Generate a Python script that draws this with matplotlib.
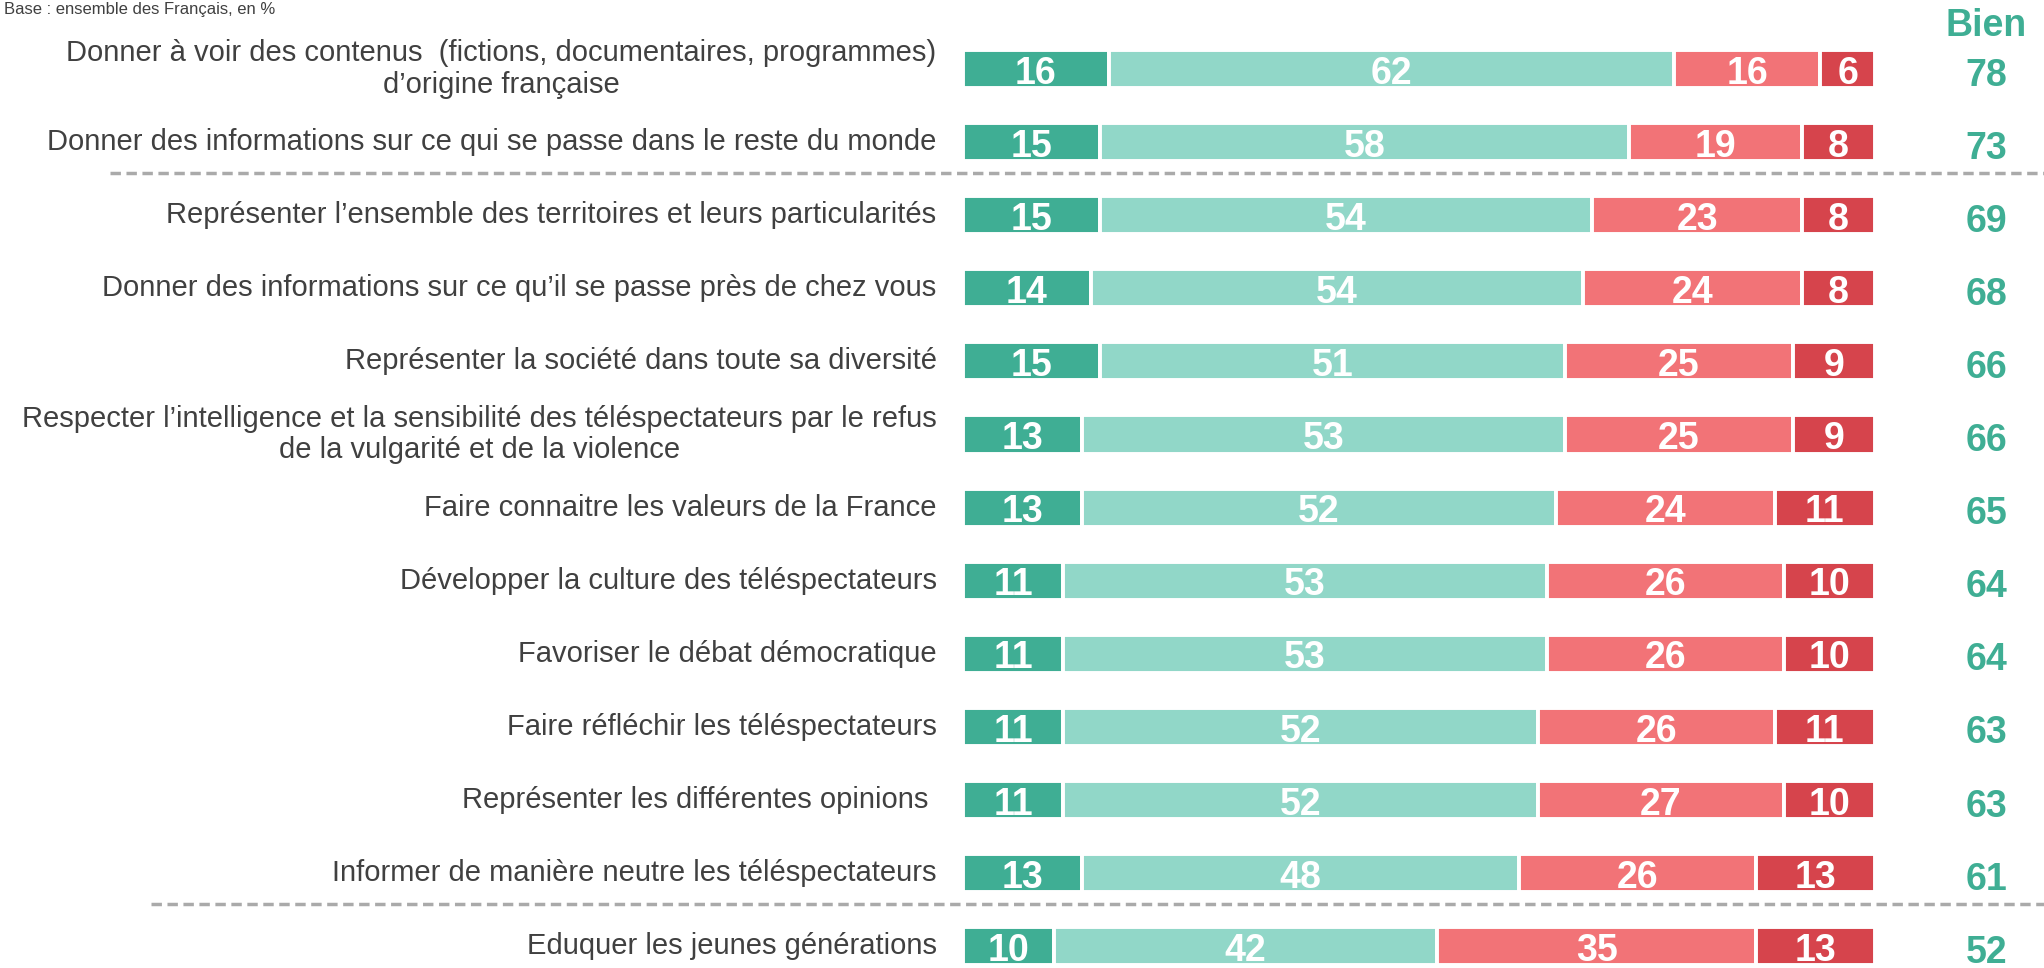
import matplotlib
matplotlib.use("Agg")
import matplotlib.pyplot as plt
import numpy as np

plt.rcParams['font.family'] = ['Liberation Sans', 'DejaVu Sans']

labels = [
    "Donner à voir des contenus  (fictions, documentaires, programmes)\nd\u2019origine française",
    "Donner des informations sur ce qui se passe dans le reste du monde",
    "Représenter l\u2019ensemble des territoires et leurs particularités",
    "Donner des informations sur ce qu\u2019il se passe près de chez vous",
    "Représenter la société dans toute sa diversité",
    "Respecter l\u2019intelligence et la sensibilité des téléspectateurs par le refus\nde la vulgarité et de la violence",
    "Faire connaitre les valeurs de la France",
    "Développer la culture des téléspectateurs",
    "Favoriser le débat démocratique",
    "Faire réfléchir les téléspectateurs",
    "Représenter les différentes opinions ",
    "Informer de manière neutre les téléspectateurs",
    "Eduquer les jeunes générations",
]
tres_bien = [16, 15, 15, 14, 15, 13, 13, 11, 11, 11, 11, 13, 10]
assez_bien = [62, 58, 54, 54, 51, 53, 52, 53, 53, 52, 52, 48, 42]
assez_mal = [16, 19, 23, 24, 25, 25, 24, 26, 26, 26, 27, 26, 35]
tres_mal = [6, 8, 8, 8, 9, 9, 11, 10, 10, 11, 10, 13, 13]
bien_total = [78, 73, 69, 68, 66, 66, 65, 64, 64, 63, 63, 61, 52]
separators = [1.42, 11.42]

colors = ['#3FAE94', '#91D7C8', '#F27377', '#D6444C']
label_color = '#404040'

W, H = 2044, 968
fig = plt.figure(figsize=(W / 100, H / 100), dpi=100)

# axes: x in percent (0 at px 963, 100 at px 1875), rows 0..12 centred at px 69 + 73.1*i
x0_px, px_per_unit = 963, 9.12
y0_px, row_px = 69, 73.1
top_px = y0_px - 0.5 * row_px
bot_px = y0_px + 12.5 * row_px
ax = fig.add_axes([x0_px / W, 1 - bot_px / H, 100 * px_per_unit / W, (bot_px - top_px) / H])
ax.set_xlim(0, 100)
ax.set_ylim(12.5, -0.5)
ax.axis('off')

y = np.arange(len(labels))
left = np.zeros(len(labels))
for vals, c in zip([tres_bien, assez_bien, assez_mal, tres_mal], colors):
    vals = np.array(vals)
    ax.barh(y, vals, left=left, height=0.52, color=c, edgecolor='white', linewidth=2.8)
    for yi, l, v in zip(y, left, vals):
        ax.text(l + v / 2, yi + 0.2, str(v), ha='center', va='baseline',
                color='white', fontsize=27, fontweight='bold')
    left += vals

for yi, lab in zip(y, labels):
    ax.text(-2.9, yi, lab, ha='right', va='center', multialignment='center',
            color=label_color, fontsize=21, linespacing=1.17, clip_on=False)

ax.text(112.2, -0.445, "Bien", ha='center', va='baseline', color=colors[0],
        fontsize=27, fontweight='bold', clip_on=False)
for yi, v in zip(y, bien_total):
    ax.text(112.2, yi + 0.226, str(v), ha='center', va='baseline', color=colors[0],
            fontsize=27, fontweight='bold', clip_on=False)

ax.plot([-93.5, 119], [separators[0]] * 2, color='#AAAAAA', lw=2.5,
        dashes=(3, 1.6), clip_on=False)
ax.plot([-89, 119], [separators[1]] * 2, color='#AAAAAA', lw=2.5,
        dashes=(3, 1.6), clip_on=False)

# source note at the very top left
fig.text(0.002, 1 - 2 / H, "Base : ensemble des Français, en %", ha='left', va='top',
         color=label_color, fontsize=12)

fig.savefig("out.png", dpi=100)
